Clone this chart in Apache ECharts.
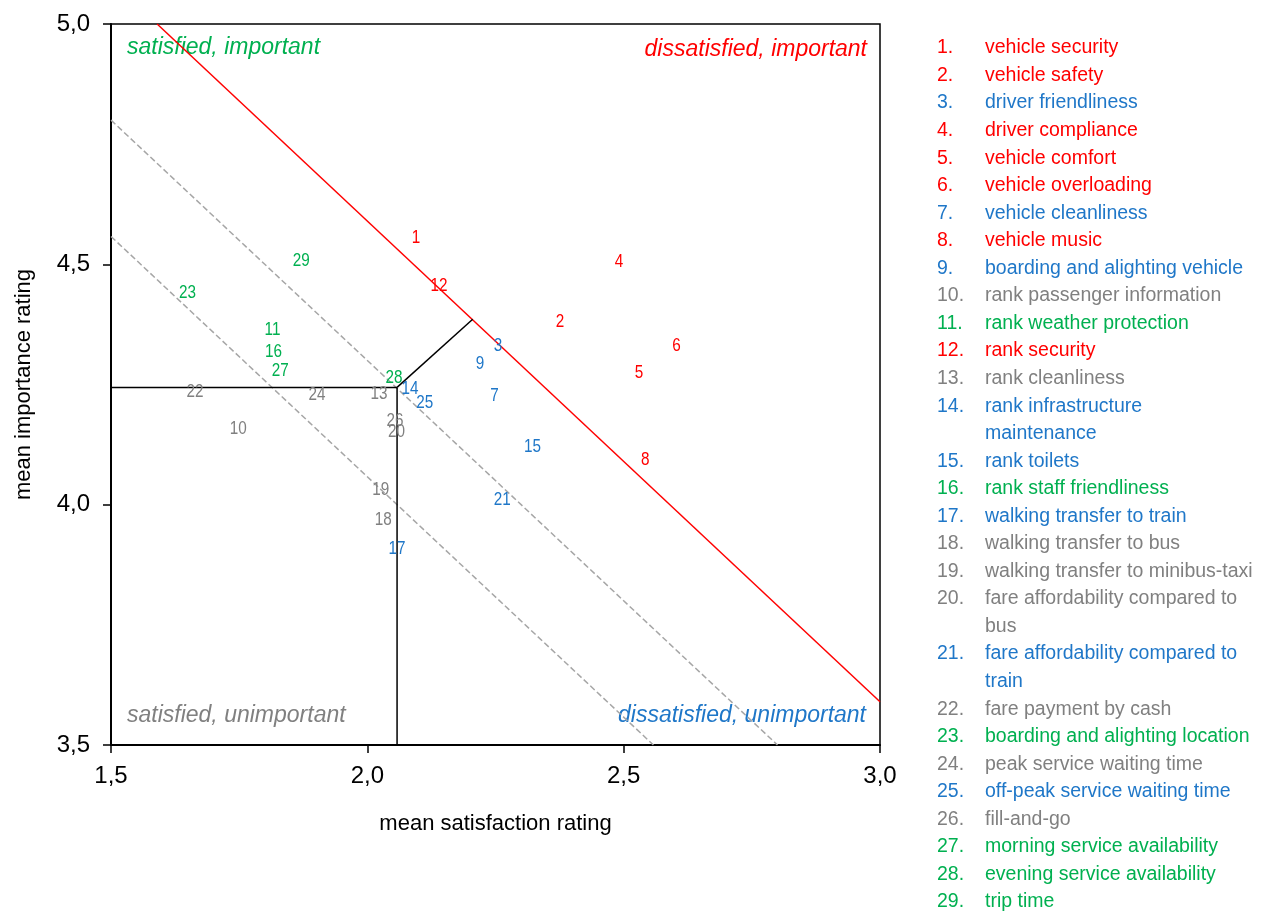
<!DOCTYPE html>
<html><head><meta charset="utf-8">
<script src="https://cdn.jsdelivr.net/npm/echarts@6/dist/echarts.min.js"></script>
<style>html,body{margin:0;padding:0;background:#fff}#c{width:1266px;height:913px}</style>
</head><body><div id="c"></div>
<script>
// ---- data ----
const ids = [1,2,3,4,5,6,7,8,9,10,11,12,13,14,15,16,17,18,19,20,21,22,23,24,25,26,27,28,29];
const satisfaction = [2.095,2.376,2.255,2.491,2.530,2.603,2.248,2.542,2.220,1.748,1.815,2.140,2.023,2.083,2.322,1.817,2.058,2.031,2.026,2.057,2.263,1.664,1.649,1.902,2.112,2.054,1.830,2.052,1.871];
const importance   = [4.554,4.381,4.330,4.504,4.273,4.329,4.225,4.093,4.293,4.157,4.363,4.454,4.230,4.240,4.119,4.317,3.908,3.967,4.031,4.151,4.010,4.235,4.441,4.228,4.212,4.173,4.278,4.264,4.507];
// quadrant group: DI dissatisfied-important, SI satisfied-important, SU satisfied-unimportant, DU dissatisfied-unimportant
const groups = ['DI','DI','DU','DI','DI','DI','DU','DI','DU','SU','SI','DI','SU','DU','DU','SI','DU','SU','SU','SU','DU','SU','SI','SU','DU','SU','SI','SI','SI'];
const names = ['vehicle security','vehicle safety','driver friendliness','driver compliance','vehicle comfort','vehicle overloading','vehicle cleanliness','vehicle music','boarding and alighting vehicle','rank passenger information','rank weather protection','rank security','rank cleanliness','rank infrastructure\nmaintenance','rank toilets','rank staff friendliness','walking transfer to train','walking transfer to bus','walking transfer to minibus-taxi','fare affordability compared to\nbus','fare affordability compared to\ntrain','fare payment by cash','boarding and alighting location','peak service waiting time','off-peak service waiting time','fill-and-go','morning service availability','evening service availability','trip time'];
const meanSat = 2.058, meanImp = 4.244;
const redLine = [[1.590,5.0],[3.0,3.590]];
const dashLine1 = [[1.5,4.800],[2.800,3.5]];
const dashLine2 = [[1.5,4.558],[2.558,3.5]];
const perpLine = [[meanSat,meanImp],[2.2055,4.3857]];
const quadrantLabels = ['satisfied, important','dissatisfied, important','satisfied, unimportant','dissatisfied, unimportant'];
const xTicks = [1.5,2.0,2.5,3.0];
const yTicks = [3.5,4.0,4.5,5.0];

// ---- styles ----
const colors = {DI:'#FF0000', SI:'#00B050', SU:'#808080', DU:'#1F77C8'};
const FONT = "'Liberation Sans',Arial,sans-serif";
const fmt = v => v.toFixed(1).replace('.', ',');

const chart = echarts.init(document.getElementById('c'), null, {renderer:'canvas'});

const pts = ids.map((id,i)=>({name:String(id), value:[satisfaction[i], importance[i]]}));

const lineS = (data, color, type, w) => ({type:'line', data, symbol:'none', silent:true,
  lineStyle:{color, width:w, type}, z:2, animation:false});

// legend graphics
const graphics = [];
let line = 0;
const lx0 = 937, lx1 = 985, ly0 = 48, lh = 27.55;
ids.forEach((id,i)=>{
  const c = colors[groups[i]];
  graphics.push({type:'text', style:{text:id+'.', x:lx0, y:ly0+line*lh, fill:c, font:'19.5px '+FONT, textVerticalAlign:'middle'}});
  names[i].split('\n').forEach(part=>{
    graphics.push({type:'text', style:{text:part, x:lx1, y:ly0+line*lh, fill:c, font:'19.5px '+FONT, textVerticalAlign:'middle'}});
    line++;
  });
});
const qf = 'italic 23px '+FONT;
graphics.push({type:'text', style:{text:quadrantLabels[0], x:127, y:48, fill:colors.SI, font:qf, textVerticalAlign:'middle'}});
graphics.push({type:'text', style:{text:quadrantLabels[1], x:867, y:50, fill:colors.DI, font:qf, textAlign:'right', textVerticalAlign:'middle'}});
graphics.push({type:'text', style:{text:quadrantLabels[2], x:127, y:716, fill:colors.SU, font:qf, textVerticalAlign:'middle'}});
graphics.push({type:'text', style:{text:quadrantLabels[3], x:866, y:716, fill:colors.DU, font:qf, textAlign:'right', textVerticalAlign:'middle'}});

chart.setOption({
  animation:false,
  grid:{left:111, right:386, top:24, bottom:168, show:true, borderColor:'#000', borderWidth:1.5, backgroundColor:'transparent'},
  xAxis:{type:'value', min:xTicks[0], max:xTicks[xTicks.length-1], interval:0.5,
    name:'mean satisfaction rating', nameLocation:'middle', nameGap:68,
    nameTextStyle:{fontFamily:FONT, fontSize:22, color:'#000'},
    axisLine:{show:true, onZero:false, lineStyle:{color:'#000', width:2}},
    axisTick:{show:true, inside:false, length:8, lineStyle:{color:'#000', width:1.5}},
    axisLabel:{formatter:fmt, fontFamily:FONT, fontSize:24, color:'#000', margin:19},
    splitLine:{show:false}},
  yAxis:{type:'value', min:yTicks[0], max:yTicks[yTicks.length-1], interval:0.5,
    name:'mean importance rating', nameLocation:'middle', nameGap:76,
    nameTextStyle:{fontFamily:FONT, fontSize:22, color:'#000'},
    axisLine:{show:true, onZero:false, lineStyle:{color:'#000', width:2}},
    axisTick:{show:true, inside:false, length:8, lineStyle:{color:'#000', width:1.5}},
    axisLabel:{formatter:fmt, fontFamily:FONT, fontSize:24, color:'#000', margin:21},
    splitLine:{show:false}},
  series:[
    lineS(dashLine1,'#A6A6A6','dashed',1.5),
    lineS(dashLine2,'#A6A6A6','dashed',1.5),
    lineS(redLine,'#FF0000','solid',1.5),
    lineS([[xTicks[0],meanImp],[meanSat,meanImp]],'#000','solid',1.5),
    lineS([[meanSat,meanImp],[meanSat,yTicks[0]]],'#000','solid',1.5),
    lineS(perpLine,'#000','solid',1.5),
    {type:'custom', data:pts, z:5, silent:true,
     renderItem:(params, api)=>{
       const p = api.coord([api.value(0), api.value(1)]);
       const i = params.dataIndex;
       return {type:'text', x:p[0], y:p[1], scaleX:0.85,
         style:{text:String(ids[i]), fill:colors[groups[i]], font:'18px '+FONT, textAlign:'center', textVerticalAlign:'middle'}};
     }}
  ],
  graphic:graphics
});
</script></body></html>
